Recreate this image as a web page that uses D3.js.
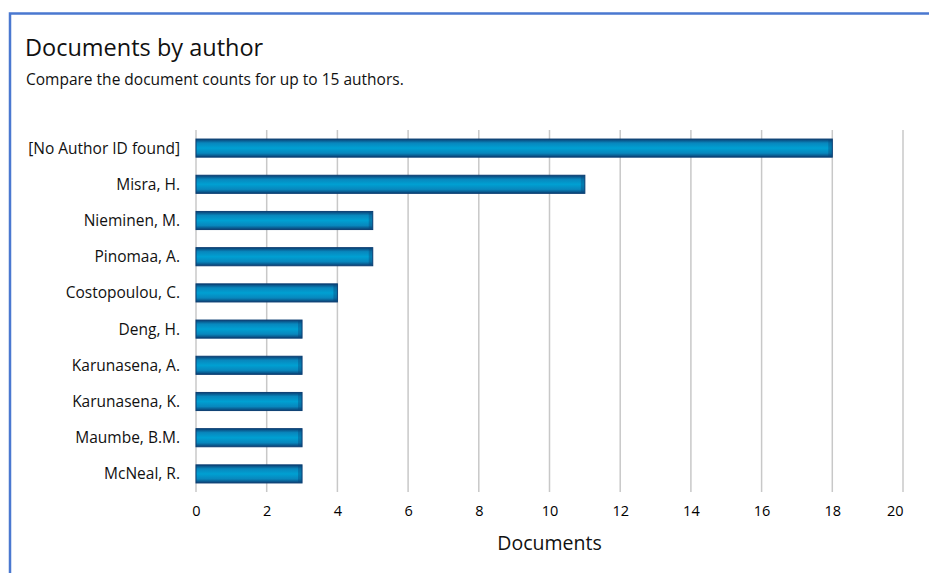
<!DOCTYPE html>
<html>
<head>
<meta charset="utf-8">
<script src="https://cdn.jsdelivr.net/npm/d3@7"></script>
<style>
  html, body { margin: 0; padding: 0; background: #fff; }
  svg { display: block; font-family: "Open Sans", "Noto Sans", sans-serif; }
</style>
</head>
<body>
<div id="chart"></div>
<script>
'use strict';

var authors = ['[No Author ID found]', 'Misra, H.', 'Nieminen, M.', 'Pinomaa, A.', 'Costopoulou, C.',
  'Deng, H.', 'Karunasena, A.', 'Karunasena, K.', 'Maumbe, B.M.', 'McNeal, R.'];
var counts = [18, 11, 5, 5, 4, 3, 3, 3, 3, 3];
var xTicks = [0, 2, 4, 6, 8, 10, 12, 14, 16, 18, 20];

var width = 929, height = 573;
var margin = { left: 196, right: 26, top: 130, bottom: 81 };

var svg = d3.select('#chart').append('svg')
  .attr('width', width)
  .attr('height', height);

// bar gradient
var defs = svg.append('defs');
var grad = defs.append('linearGradient').attr('id', 'barGrad')
  .attr('x1', 0).attr('y1', 0).attr('x2', 0).attr('y2', 1);
grad.append('stop').attr('offset', '0%').attr('stop-color', '#0b3f73');
grad.append('stop').attr('offset', '22%').attr('stop-color', '#0887bd');
grad.append('stop').attr('offset', '50%').attr('stop-color', '#00a0d2');
grad.append('stop').attr('offset', '78%').attr('stop-color', '#0887bd');
grad.append('stop').attr('offset', '100%').attr('stop-color', '#0b3f73');

// panel border (top & left)
svg.append('path')
  .attr('d', 'M10,' + height + ' V13.5 H' + width)
  .attr('fill', 'none')
  .attr('stroke', '#4a78d0')
  .attr('stroke-width', 2.5);

svg.append('text')
  .attr('x', 25).attr('y', 56)
  .attr('font-size', 23.5)
  .attr('fill', '#111')
  .text('Documents by author');

svg.append('text')
  .attr('x', 26).attr('y', 85)
  .attr('font-size', 15.5)
  .attr('fill', '#111')
  .text('Compare the document counts for up to 15 authors.');

var x = d3.scaleLinear()
  .domain([0, 20])
  .range([margin.left, width - margin.right]);

var y = d3.scaleBand()
  .domain(authors)
  .range([margin.top, height - margin.bottom])
  .paddingInner(0.5)
  .paddingOuter(0.25);

// grid lines
svg.append('g')
  .selectAll('line')
  .data(xTicks)
  .join('line')
  .attr('x1', function (d) { return x(d); })
  .attr('x2', function (d) { return x(d); })
  .attr('y1', margin.top)
  .attr('y2', height - margin.bottom)
  .attr('stroke', '#c8c8c8')
  .attr('stroke-width', 1.5);

// bars
var bars = svg.append('g')
  .selectAll('g')
  .data(counts)
  .join('g');

bars.append('rect')
  .attr('x', x(0))
  .attr('y', function (d, i) { return y(authors[i]); })
  .attr('width', function (d) { return x(d) - x(0); })
  .attr('height', y.bandwidth())
  .attr('fill', 'url(#barGrad)')
  .attr('stroke', '#0b3f73')
  .attr('stroke-width', 1);

// darken the right end a bit
bars.append('rect')
  .attr('x', function (d) { return x(d) - 4; })
  .attr('y', function (d, i) { return y(authors[i]) + 1; })
  .attr('width', 4)
  .attr('height', y.bandwidth() - 2)
  .attr('fill', '#0b3f73')
  .attr('opacity', 0.35);

// y axis labels
svg.append('g')
  .selectAll('text')
  .data(authors)
  .join('text')
  .attr('x', 180)
  .attr('y', function (d) { return y(d) + y.bandwidth() / 2; })
  .attr('dy', '0.35em')
  .attr('text-anchor', 'end')
  .attr('font-size', 15.5)
  .attr('fill', '#111')
  .text(function (d) { return d; });

// x axis
var xAxis = svg.append('g')
  .attr('transform', 'translate(0,' + (height - margin.bottom) + ')')
  .call(d3.axisBottom(x).tickValues(xTicks).tickSize(0).tickPadding(14));
xAxis.select('.domain').remove();
xAxis.selectAll('text')
  .attr('font-size', 14.5)
  .attr('fill', '#000')
  .style('font-family', '"Open Sans", "Noto Sans", sans-serif');
// last label is pulled inside so it does not overflow
xAxis.selectAll('.tick')
  .filter(function (d) { return d === 20; })
  .select('text')
  .attr('text-anchor', 'end');

svg.append('text')
  .attr('x', (x(0) + x(20)) / 2)
  .attr('y', 550)
  .attr('text-anchor', 'middle')
  .attr('font-size', 19.5)
  .attr('fill', '#111')
  .text('Documents');
</script>
</body>
</html>
